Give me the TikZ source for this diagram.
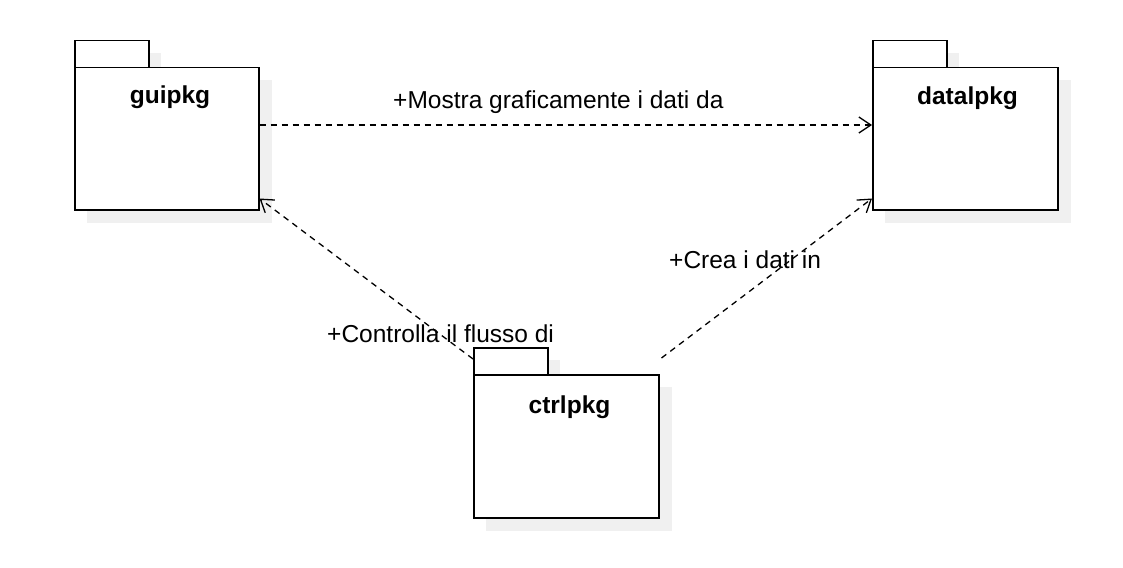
\documentclass[tikz,border=0pt]{standalone}
\usepackage{fontspec}
\setmainfont{Liberation Sans}
\usetikzlibrary{arrows.meta}
\begin{document}
\begin{tikzpicture}[x=1pt,y=-1pt,
  pkgshadow/.style={fill=black!6, draw=none},
  pkgbox/.style={draw=black, line width=1.5pt, fill=white, inner sep=0pt, anchor=north west},
  pkgname/.style={font=\fontsize{24.5}{29}\selectfont\bfseries, anchor=base, inner sep=0pt},
  deplabel/.style={font=\fontsize{24.5}{29}\selectfont, anchor=base west, inner sep=0pt},
  dep/.style={draw=black, line width=1.3pt, dash pattern=on 6pt off 5pt,
    -{Straight Barb[length=12pt,width=16pt,line width=1.3pt]}}]
\useasboundingbox (0,0) rectangle (1123,567);
% shadows
\fill[pkgshadow] (87,53) rectangle (161,80);
\fill[pkgshadow] (87,80) rectangle (272,223);
\fill[pkgshadow] (885,53) rectangle (959,80);
\fill[pkgshadow] (885,80) rectangle (1071,223);
\fill[pkgshadow] (486,360) rectangle (560,387);
\fill[pkgshadow] (486,387) rectangle (672,531);
% gui package
\node[pkgbox, minimum width=74pt, minimum height=27pt] (guitab) at (74,40) {};
\node[pkgbox, minimum width=184pt, minimum height=142pt] (gui) at (74,67) {};
\node[pkgname] (guiname) at (170,104) {guipkg};
% data package
\node[pkgbox, minimum width=74pt, minimum height=27pt] (datatab) at (872,40) {};
\node[pkgbox, minimum width=185pt, minimum height=142pt] (data) at (872,67) {};
\node[pkgname] (dataname) at (967.5,105) {datalpkg};
% ctrl package
\node[pkgbox, minimum width=74pt, minimum height=27pt] (ctrltab) at (473,347) {};
\node[pkgbox, minimum width=185pt, minimum height=143pt] (ctrl) at (473,374) {};
\node[pkgname] (ctrlname) at (569.5,413) {ctrlpkg};
% dependencies
\draw[dep] ([yshift=-58pt]gui.north east) -- ([yshift=-58pt]data.north west);
\draw[dep] ([yshift=-12pt]ctrltab.north west) -- ([yshift=12pt]gui.south east);
\draw[dep] ([xshift=2pt,yshift=16pt]ctrl.north east) -- ([yshift=12pt]data.south west);
% labels
\node[deplabel] (l1) at (393,109) {+Mostra graficamente i dati da};
\node[deplabel] (l2) at (669,268) {+Crea i dati in};
\node[deplabel] (l3) at (327,342) {+Controlla il flusso di};
\end{tikzpicture}
\end{document}
